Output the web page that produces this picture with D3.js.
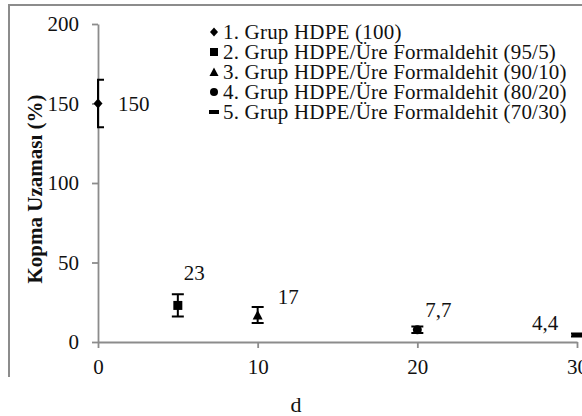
<!DOCTYPE html>
<html>
<head>
<meta charset="utf-8">
<script src="https://cdn.jsdelivr.net/npm/d3@7"></script>
<style>
  html, body { margin: 0; padding: 0; background: #fff; overflow: hidden; }
  svg { display: block; }
  text { font-family: "Liberation Serif", "Times New Roman", serif; fill: #111; }
</style>
</head>
<body>
<script>
// data
const groups = [
  "1. Grup HDPE (100)",
  "2. Grup HDPE/Üre Formaldehit (95/5)",
  "3. Grup HDPE/Üre Formaldehit (90/10)",
  "4. Grup HDPE/Üre Formaldehit (80/20)",
  "5. Grup HDPE/Üre Formaldehit (70/30)"
];
const ratio = [0, 5, 10, 20, 30];
const elongation = [150, 23, 17, 7.7, 4.4];
const errors = [15, 7, 5, 2, 1];
const valueLabels = ["150", "23", "17", "7,7", "4,4"];
const markers = ["diamond", "square", "triangle", "circle", "dash"];
const yTicks = [0, 50, 100, 150, 200];
const xTicks = [0, 10, 20, 30];

// label placement relative to each point (left edge, vertical centre)
const labelOffsets = [[20, 1], [6, -32], [20, -18], [8, -20], [-45, -12]];

var width = 582, height = 416;
var axisColor = "#8c8c8c";

var x = d3.scaleLinear().domain([0, 30]).range([98, 577]);
var y = d3.scaleLinear().domain([0, 200]).range([342, 24]);

var svg = d3.select("body").append("svg")
  .attr("width", width)
  .attr("height", height);

// frame (cropped screenshot border)
svg.append("path")
  .attr("d", "M9,377V5H" + width)
  .attr("fill", "none")
  .attr("stroke", axisColor)
  .attr("stroke-width", 2);

function markerPath(type, s) {
  var h = s / 2;
  if (type == "diamond") return "M0," + (-h - 0.5) + "L" + h + ",0L0," + (h + 0.5) + "L" + (-h) + ",0Z";
  if (type == "square") return "M" + (-h) + "," + (-h) + "h" + s + "v" + s + "h" + (-s) + "Z";
  if (type == "triangle") return "M0," + (-h - 0.5) + "L" + (h + 0.5) + "," + (h) + "L" + (-h - 0.5) + "," + (h) + "Z";
  if (type == "circle") return d3.arc()({innerRadius: 0, outerRadius: h, startAngle: 0, endAngle: 2 * Math.PI});
  return "M" + (-h - 1) + ",-2h" + (s + 2) + "v4h" + (-s - 2) + "Z";
}

// x axis
var xAxis = svg.append("g")
  .attr("transform", "translate(0," + y(0) + ")")
  .call(d3.axisBottom(x).tickValues(xTicks).tickSize(6).tickSizeOuter(0).tickPadding(11));

// y axis
var yAxis = svg.append("g")
  .attr("transform", "translate(" + x(0) + ",0)")
  .call(d3.axisLeft(y).tickValues(yTicks).tickSize(6).tickSizeOuter(0).tickPadding(13));

[xAxis, yAxis].forEach(function(g) {
  g.select(".domain").attr("stroke", axisColor).attr("stroke-width", 1.8);
  g.selectAll(".tick line").attr("stroke", axisColor).attr("stroke-width", 1.8);
  g.selectAll(".tick text")
    .attr("fill", "#111")
    .style("font-family", '"Liberation Serif", "Times New Roman", serif')
    .style("font-size", "21px");
});

// axis titles
svg.append("text")
  .attr("transform", "translate(35,189) rotate(-90)")
  .attr("text-anchor", "middle")
  .attr("dy", "0.35em")
  .style("font-size", "21px")
  .style("font-weight", "bold")
  .text("Kopma Uzaması (%)");

svg.append("text")
  .attr("x", 296)
  .attr("y", 404)
  .attr("dy", "0.35em")
  .attr("text-anchor", "middle")
  .style("font-size", "22px")
  .text("d");

// error bars (clipped at the plot area like the original)
svg.append("clipPath").attr("id", "plot")
  .append("rect").attr("x", 97).attr("y", 0).attr("width", 500).attr("height", 350);

var bars = svg.append("g").attr("clip-path", "url(#plot)");
ratio.forEach(function(r, i) {
  var top = y(elongation[i] + errors[i]), bot = y(elongation[i] - errors[i]), cx = x(r);
  bars.append("path")
    .attr("d", "M" + cx + "," + top + "V" + bot +
      "M" + (cx - 6) + "," + top + "H" + (cx + 6) +
      "M" + (cx - 6) + "," + bot + "H" + (cx + 6))
    .attr("fill", "none")
    .attr("stroke", "#000")
    .attr("stroke-width", 2);
});

// points
svg.selectAll(".pt")
  .data(ratio)
  .enter().append("path")
  .attr("class", "pt")
  .attr("transform", function(d, i) { return "translate(" + x(d) + "," + y(elongation[i]) + ")"; })
  .attr("d", function(d, i) { return markerPath(markers[i], 9); })
  .attr("fill", "#000");

// value labels
svg.selectAll(".lbl")
  .data(ratio)
  .enter().append("text")
  .attr("class", "lbl")
  .attr("x", function(d, i) { return x(d) + labelOffsets[i][0]; })
  .attr("y", function(d, i) { return y(elongation[i]) + labelOffsets[i][1]; })
  .attr("dy", "0.33em")
  .style("font-size", "21px")
  .text(function(d, i) { return valueLabels[i]; });

// legend
var legend = svg.append("g").attr("transform", "translate(214,32)");
groups.forEach(function(name, i) {
  var row = legend.append("g").attr("transform", "translate(0," + (i * 20) + ")");
  row.append("path")
    .attr("d", markerPath(markers[i], 8))
    .attr("fill", "#000");
  row.append("text")
    .attr("x", 9)
    .attr("dy", "0.33em")
    .style("font-size", "21px")
    .style("letter-spacing", "0.2px")
    .text(name);
});
</script>
</body>
</html>
